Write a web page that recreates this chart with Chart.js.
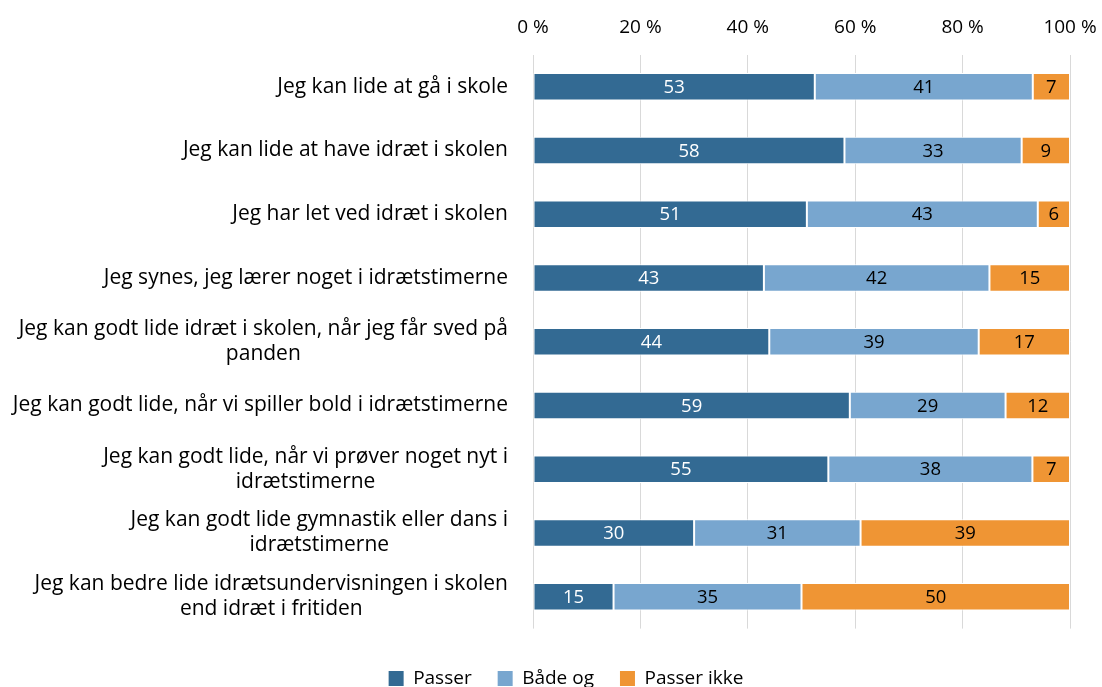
<!DOCTYPE html>
<html>
<head>
<meta charset="utf-8">
<script src="https://cdn.jsdelivr.net/npm/chart.js@4"></script>
<style>
  html, body { margin: 0; padding: 0; background: #fff; }
  #wrap { width: 1102px; height: 687px; }
</style>
</head>
<body>
<div id="wrap"><canvas id="chart"></canvas></div>
<script>
const categories = [
  ["Jeg kan lide at gå i skole"],
  ["Jeg kan lide at have idræt i skolen"],
  ["Jeg har let ved idræt i skolen"],
  ["Jeg synes, jeg lærer noget i idrætstimerne"],
  ["Jeg kan godt lide idræt i skolen, når jeg får sved på", "panden"],
  ["Jeg kan godt lide, når vi spiller bold i idrætstimerne"],
  ["Jeg kan godt lide, når vi prøver noget nyt i", "idrætstimerne"],
  ["Jeg kan godt lide gymnastik eller dans i", "idrætstimerne"],
  ["Jeg kan bedre lide idrætsundervisningen i skolen", "end idræt i fritiden"],
];
const passer = [53, 58, 51, 43, 44, 59, 55, 30, 15];
const baadeOg = [41, 33, 43, 42, 39, 29, 38, 31, 35];
const passerIkke = [7, 9, 6, 15, 17, 12, 7, 39, 50];
const xTicks = [0, 20, 40, 60, 80, 100];

const FONT = "'Open Sans'";
const rowTotals = passer.map((v, i) => v + baadeOg[i] + passerIkke[i]);
const toPct = (arr) => arr.map((v, i) => (v / rowTotals[i]) * 100);

const series = [
  { label: "Passer", raw: passer, color: "#336a93", text: "#ffffff" },
  { label: "Både og", raw: baadeOg, color: "#78a6cf", text: "#000000" },
  { label: "Passer ikke", raw: passerIkke, color: "#ef9534", text: "#000000" },
];

// value labels in the middle of each segment
const valueLabels = {
  id: "valueLabels",
  afterDatasetsDraw(chart) {
    const ctx = chart.ctx;
    ctx.save();
    ctx.font = "18.5px " + FONT;
    ctx.textAlign = "center";
    ctx.textBaseline = "middle";
    chart.data.datasets.forEach((ds, di) => {
      const meta = chart.getDatasetMeta(di);
      meta.data.forEach((bar, i) => {
        const p = bar.getCenterPoint();
        ctx.fillStyle = series[di].text;
        ctx.fillText(String(ds.rawValues[i]), p.x, p.y + 1);
      });
    });
    ctx.restore();
  },
};

// category labels, right edge next to the plot, lines centred on each other
const categoryLabels = {
  id: "categoryLabels",
  afterDraw(chart) {
    const ctx = chart.ctx;
    const yScale = chart.scales.y;
    const right = chart.chartArea.left - 25;
    const lh = 25;
    ctx.save();
    ctx.font = "21px " + FONT;
    ctx.fillStyle = "#000000";
    ctx.textBaseline = "middle";
    ctx.textAlign = "center";
    categories.forEach((lines, i) => {
      const y = yScale.getPixelForValue(i);
      const w = Math.max(...lines.map((l) => ctx.measureText(l).width));
      const cx = right - w / 2;
      const y0 = y - ((lines.length - 1) * lh) / 2;
      lines.forEach((l, k) => ctx.fillText(l, cx, y0 + k * lh));
    });
    ctx.restore();
  },
};

new Chart(document.getElementById("chart"), {
  type: "bar",
  data: {
    labels: categories,
    datasets: series.map((s) => ({
      label: s.label,
      data: toPct(s.raw),
      rawValues: s.raw,
      backgroundColor: s.color,
      borderColor: "#ffffff",
      borderWidth: 1,
      borderSkipped: false,
      barPercentage: 0.43,
      categoryPercentage: 1,
    })),
  },
  options: {
    indexAxis: "y",
    responsive: true,
    maintainAspectRatio: false,
    animation: false,
    layout: { padding: { top: 0, right: 4, bottom: -11, left: 34 } },
    scales: {
      x: {
        position: "top",
        stacked: true,
        min: 0,
        max: 100,
        afterBuildTicks: (scale) => {
          scale.ticks = xTicks.map((v) => ({ value: v }));
        },
        afterFit: (scale) => {
          scale.paddingRight = 32;
          scale.paddingLeft = 0;
        },
        ticks: {
          callback: (v) => v + " %",
          color: "#000000",
          font: { family: FONT, size: 19 },
          padding: 16,
          maxRotation: 0,
        },
        grid: { color: "#d9d9d9", lineWidth: 1, drawTicks: false },
        border: { display: false },
      },
      y: {
        stacked: true,
        ticks: { display: false },
        grid: { display: false },
        border: { display: false },
        afterFit: (scale) => {
          scale.width = 499;
        },
      },
    },
    plugins: {
      legend: {
        position: "bottom",
        title: { display: true, text: "", padding: 0, font: { size: 12 } },
        labels: {
          color: "#000000",
          font: { family: FONT, size: 19 },
          boxWidth: 15,
          boxHeight: 15,
          padding: 26,
          generateLabels: () =>
            series.map((s, i) => ({
              text: s.label,
              fillStyle: s.color,
              strokeStyle: s.color,
              fontColor: "#000000",
              lineWidth: 0,
              datasetIndex: i,
            })),
        },
      },
      tooltip: { enabled: false },
    },
  },
  plugins: [valueLabels, categoryLabels],
});
</script>
</body>
</html>
